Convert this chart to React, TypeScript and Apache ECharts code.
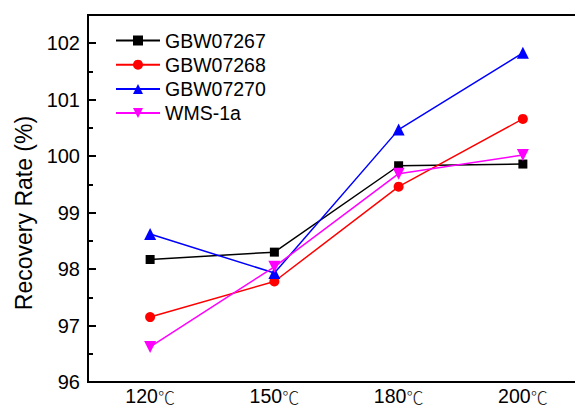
import React, { useEffect, useRef } from "react";
import * as echarts from "echarts";

const categories = ["120℃", "150℃", "180℃", "200℃"];
const gbw07267 = [98.17, 98.3, 99.83, 99.86];
const gbw07268 = [97.15, 97.78, 99.46, 100.66];
const gbw07270 = [98.62, 97.93, 100.47, 101.83];
const wms1a = [96.62, 98.04, 99.69, 100.02];
const yMin = 96;
const yMax = 102.5;
const yInterval = 1;
const yTitle = "Recovery Rate (%)";

const FONT = "'Liberation Sans', Arial, sans-serif";

export default function App() {
  const ref = useRef<HTMLDivElement>(null);
  useEffect(() => {
    if (!ref.current) return;
    const chart = echarts.init(ref.current, undefined, { renderer: "svg" });
    const mk = (name: string, data: number[], color: string, symbol: string, size: number, rotate = 0) => ({
      name,
      type: "line",
      data,
      symbol,
      symbolSize: size,
      symbolRotate: rotate,
      itemStyle: { color },
      lineStyle: { color, width: 1.5 },
      emphasis: { disabled: true },
    });
    chart.setOption({
      animation: false,
      backgroundColor: "#fff",
      grid: {
        left: 88,
        top: 15,
        bottom: 26,
        right: -10,
        outerBoundsMode: "none",
        containLabel: false,
        show: true,
        borderColor: "#000",
        borderWidth: 2,
      },
      legend: {
        orient: "vertical",
        left: 115,
        top: 30.5,
        padding: 0,
        itemWidth: 44,
        itemHeight: 12.5,
        itemGap: 4.2,
        textStyle: { fontFamily: FONT, fontSize: 19.5, color: "#000" },
        data: ["GBW07267", "GBW07268", "GBW07270", "WMS-1a"],
      },
      xAxis: [
        {
          type: "category",
          data: categories,
          boundaryGap: true,
          axisLine: { lineStyle: { color: "#000", width: 2 } },
          axisTick: { alignWithLabel: true, inside: true, length: 8, lineStyle: { color: "#000", width: 2 } },
          axisLabel: {
            color: "#000",
            margin: 6,
            lineHeight: 16,
            formatter: (v: string) => {
              const num = v.replace("℃", "");
              return "{n|" + num + "}{u|℃}";
            },
            rich: {
              n: { fontFamily: FONT, fontSize: 19.5, lineHeight: 16, color: "#000" },
              u: { fontFamily: "'Noto Sans CJK SC', sans-serif", fontSize: 17, lineHeight: 16, fontWeight: 300, color: "#222" },
            },
          },
          splitLine: { show: false },
        },
        {
          type: "category",
          data: categories,
          boundaryGap: true,
          position: "bottom",
          axisLine: { show: false },
          axisTick: { inside: true, length: 5, lineStyle: { color: "#000", width: 2 } },
          axisLabel: { show: false },
          splitLine: { show: false },
        },
      ],
      yAxis: {
        type: "value",
        min: yMin,
        max: yMax,
        interval: yInterval,
        axisLine: { show: true, lineStyle: { color: "#000", width: 2 } },
        axisTick: { show: true, inside: true, length: 8, lineStyle: { color: "#000", width: 2 } },
        minorTick: { show: true, splitNumber: 2, length: 5, lineStyle: { color: "#000", width: 2 } },
        axisLabel: {
          fontFamily: FONT,
          fontSize: 20,
          color: "#000",
          margin: 8,
          formatter: (v: number) => (Number.isInteger(v) ? String(v) : ""),
        },
        splitLine: { show: false },
      },
      graphic: [
        {
          type: "text",
          x: 24,
          y: 213,
          rotation: Math.PI / 2,
          style: {
            text: yTitle,
            fontFamily: FONT,
            fontSize: 23,
            fill: "#000",
            align: "center",
            verticalAlign: "middle",
          },
        },
      ],
      series: [
        mk("GBW07267", gbw07267, "#000000", "rect", 9),
        mk("GBW07268", gbw07268, "#ff0000", "circle", 10),
        mk("GBW07270", gbw07270, "#0000ff", "triangle", 12),
        mk("WMS-1a", wms1a, "#ff00ff", "triangle", 12, 180),
      ],
    });
    return () => chart.dispose();
  }, []);
  return <div ref={ref} style={{ width: 575, height: 408, position: "fixed", left: 0, top: 0 }} />;
}
